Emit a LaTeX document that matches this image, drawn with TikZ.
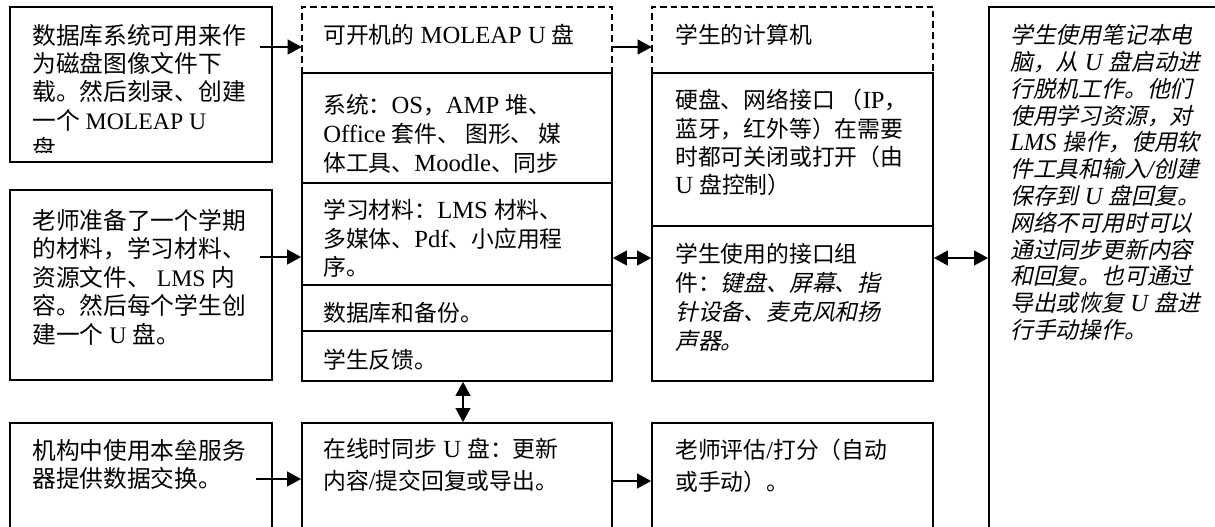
\documentclass[tikz,border=0pt]{standalone}
\usepackage{fontspec}
\setmainfont{Noto Sans CJK SC}
\newfontfamily\cjkit{Noto Sans CJK SC}[FakeSlant=0.22]
\newfontfamily\latL{Liberation Serif}
\newfontfamily\latS{Liberation Serif}[Scale=1.08]
\let\latfont\latL
\newcommand\lat[1]{{\latfont #1}}
\newcommand\lati[1]{{\latfont\itshape #1}}
\usetikzlibrary{arrows.meta,calc,fit}
\newcommand\tlines[6]{\foreach \ln [count=\i from 0] in {#6} {\node[#2] (#1-\i) at (#3,{#4+\i*#5}) {\ln};}}
\begin{document}
\begin{tikzpicture}[x=0.75pt,y=-0.75pt,
  box/.style={draw, line width=1.3pt, inner sep=0pt},
  area/.style={inner sep=0pt},
  dashedge/.style={line width=1.3pt, dash pattern=on 5pt off 3pt},
  arr/.style={line width=1.5pt, -{Triangle[length=10.5pt,width=11pt]}},
  darr/.style={line width=1.5pt, {Triangle[length=10.5pt,width=11pt]}-{Triangle[length=10.5pt,width=11pt]}},
  txtL/.style={anchor=base west, inner sep=0pt, font=\fontsize{17.8}{21}\selectfont\let\latfont\latL},
  txtS/.style={anchor=base west, inner sep=0pt, font=\fontsize{17.1}{20}\selectfont\let\latfont\latS},
]
\clip (0,0) rectangle (1215,526);
\fill[white] (0,0) rectangle (1215,526);

% left column
\node[box, fit={(10,7) (272,162)}] (A) {};
\node[box, fit={(10,190) (272,380)}] (B) {};
\node[box, fit={(10,423) (272,545)}] (C) {};
% middle column
\node[area, fit={(302,7) (612,73)}] (M0) {};
\draw[dashedge] (M0.south west) -- (M0.north west) -- (M0.north east) -- (M0.south east);
\node[box, fit={(302,73) (612,183)}] (M1) {};
\node[box, fit={(302,183) (612,285)}] (M2) {};
\node[box, fit={(302,285) (612,331)}] (M3) {};
\node[box, fit={(302,331) (612,381)}] (M4) {};
\node[box, fit={(302,423) (612,545)}] (D) {};
% right column
\node[area, fit={(652,7) (933,73)}] (RH) {};
\draw[dashedge] (RH.south west) -- (RH.north west) -- (RH.north east) -- (RH.south east);
\node[box, fit={(652,73) (933,226)}] (R1) {};
\node[box, fit={(652,226) (933,381)}] (R2) {};
\node[box, fit={(652,423) (933,545)}] (E) {};
% tall box
\node[box, fit={(989,7) (1240,545)}] (T) {};

% texts
\begin{scope}
\clip (10,7) rectangle (272,152);
\tlines{a}{txtL}{32}{44}{28.4}{数据库系统可用来作,为磁盘图像文件下,载。然后刻录、创建,{一个\lat{ MOLEAP U}},盘}
\end{scope}
\tlines{b}{txtL}{32}{229}{28.6}{老师准备了一个学期,的材料，学习材料、,{资源文件、\lat{ LMS }内},容。然后每个学生创,{建一个\lat{ U }盘。}}
\tlines{c}{txtL}{32}{459}{28.4}{机构中使用本垒服务,器提供数据交换。}

\tlines{m0}{txtS}{323}{43.6}{28}{{可开机的\lat{ MOLEAP U }盘}}
\tlines{m1}{txtS}{323}{113.6}{29}{{系统：\lat{OS}，\lat{AMP }堆、},{\lat{Office }套件、 图形、 媒},{体工具、\lat{Moodle}、同步}}
\begin{scope}
\clip (302,183) rectangle (612,281);
\tlines{m2}{txtS}{323}{218.6}{28.4}{{学习材料：\lat{LMS }材料、},{多媒体、\lat{Pdf}、小应用程},序。}
\end{scope}
\tlines{m3}{txtS}{323}{321.6}{28}{数据库和备份。}
\tlines{m4}{txtS}{323}{368.6}{28}{学生反馈。}
\tlines{d}{txtS}{323}{457}{32}{{在线时同步\lat{ U }盘：更新},{内容\lat{/}提交回复或导出。}}

\tlines{rh}{txtS}{675}{43.6}{28}{学生的计算机}
\tlines{r1}{txtS}{675}{108.6}{28.4}{{硬盘、网络接口 （\lat{IP}，},蓝牙，红外等）在需要,时都可关闭或打开（由,{\lat{U }盘控制）}}
\tlines{r2}{txtS}{675}{262.6}{29}{学生使用的接口组,{件：{\cjkit 键盘、屏幕、指}},{\cjkit 针设备、麦克风和扬},{\cjkit 声器。}}
\tlines{e}{txtS}{675}{458}{32}{{老师评估\lat{/}打分（自动},或手动）。}

\tlines{t}{txtS}{1010}{43.6}{26.8}{{\cjkit 学生使用笔记本电},{\cjkit 脑，从\lati{ U }盘启动进},{\cjkit 行脱机工作。他们},{\cjkit 使用学习资源，对},{\cjkit \lati{LMS }操作，使用软},{\cjkit 件工具和输入\lati{/}创建},{\cjkit 保存到\lati{ U }盘回复。},{\cjkit 网络不可用时可以},{\cjkit 通过同步更新内容},{\cjkit 和回复。也可通过},{\cjkit 导出或恢复\lati{ U }盘进},{\cjkit 行手动操作。}}

% connectors
\draw[arr] ($(A.east |- 0,47)+(-13,0)$) -- (M0.west |- 0,47);
\draw[arr] (M0.east |- 0,47) -- (RH.west |- 0,47);
\draw[arr] ($(B.east |- 0,257)+(-13,0)$) -- (M2.west |- 0,257);
\draw[darr] (M2.east |- 0,258) -- (R2.west |- 0,258);
\draw[darr] (R2.east |- 0,258) -- (T.west |- 0,258);
\draw[darr] ($(M4.south)+(6,0)$) -- ($(D.north)+(6,0)$);
\draw[arr] ($(C.east |- 0,479)+(-17,0)$) -- (D.west |- 0,479);
\draw[arr] (D.east |- 0,481) -- (E.west |- 0,481);
\end{tikzpicture}
\end{document}
